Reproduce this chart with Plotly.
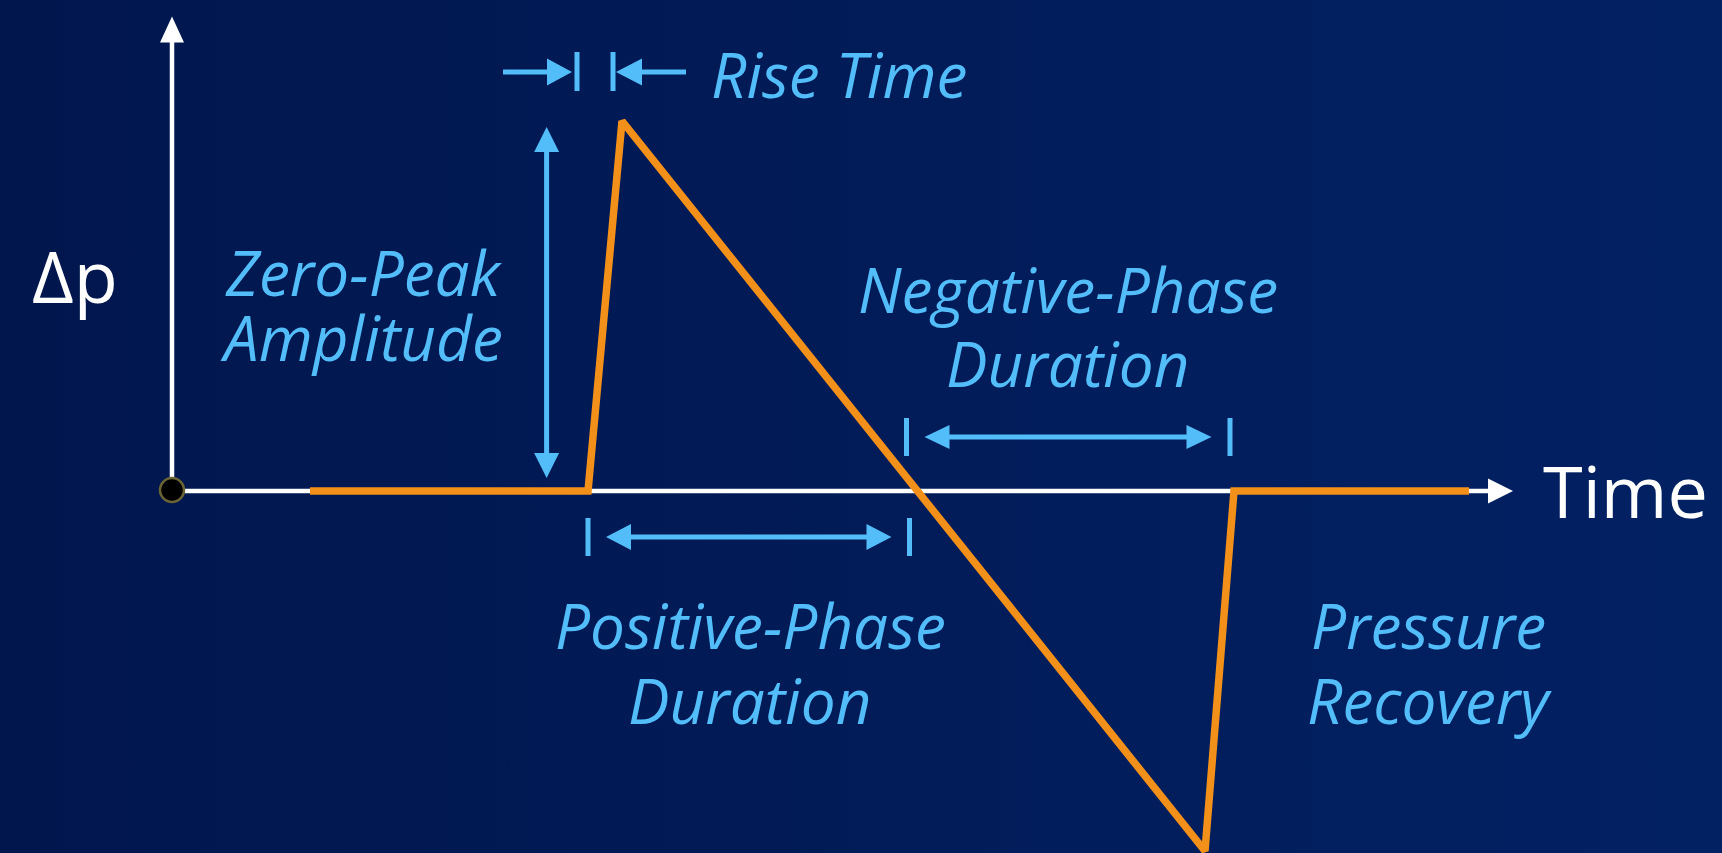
import numpy as np
import plotly.graph_objects as go

# ---- data (schematic blast wave: time in ms, overpressure in kPa) ----
t_ms = [13.8, 41.6, 45.0, 103.3, 106.2, 129.7]
dp_kpa = [0.0, 0.0, 37.0, -36.0, 0.0, 0.0]
axis_time_end = 134.1
axis_dp_end = 47.45

ORANGE = "#F39019"
BLUE = "#52BDF9"
WHITE = "#FFFFFF"
FONT = "Open Sans"

W, H = 1722, 853
XR = [-17.2, 155.0]
YR = [-36.2, 49.1]

# zero crossing of the descending branch
t_zero = float(np.interp(0.0, [dp_kpa[3], dp_kpa[2]], [t_ms[3], t_ms[2]]))
t_arr, t_peak, t_rec = t_ms[1], t_ms[2], t_ms[4]

fig = go.Figure()

# background gradient
fig.add_trace(go.Scatter(
    x=[XR[0], XR[1], XR[1], XR[0], XR[0]], y=[YR[0], YR[0], YR[1], YR[1], YR[0]],
    mode="lines", line=dict(width=0), fill="toself",
    fillgradient=dict(type="horizontal", colorscale=[[0, "#01164D"], [1, "#022163"]]),
    hoverinfo="skip", showlegend=False))

# axes (white lines)
fig.add_trace(go.Scatter(x=[0, 0], y=[0, axis_dp_end - 2.4], mode="lines",
                         line=dict(color=WHITE, width=4.5), hoverinfo="skip", showlegend=False))
fig.add_trace(go.Scatter(x=[0, axis_time_end - 2.4], y=[0, 0], mode="lines",
                         line=dict(color=WHITE, width=4.5), hoverinfo="skip", showlegend=False))

# waveform
fig.add_trace(go.Scatter(x=t_ms, y=dp_kpa, mode="lines",
                         line=dict(color=ORANGE, width=7.5), hoverinfo="skip", showlegend=False))

# origin dot
fig.add_trace(go.Scatter(x=[0], y=[0.1], mode="markers",
                         marker=dict(size=24, color="#000000", line=dict(color="#6B6535", width=2.5)),
                         hoverinfo="skip", showlegend=False))

shapes = []


def head(tx, ty, d, L=2.5, Wd=2.5, color=BLUE):
    h = Wd / 2
    if d == "r":
        p = f"M{tx},{ty} L{tx-L},{ty+h} L{tx-L},{ty-h} Z"
    elif d == "l":
        p = f"M{tx},{ty} L{tx+L},{ty+h} L{tx+L},{ty-h} Z"
    elif d == "u":
        p = f"M{tx},{ty} L{tx-h},{ty-L} L{tx+h},{ty-L} Z"
    else:
        p = f"M{tx},{ty} L{tx-h},{ty+L} L{tx+h},{ty+L} Z"
    shapes.append(dict(type="path", path=p, xref="x", yref="y", fillcolor=color,
                       line=dict(width=0), layer="above"))


def seg(x0, y0, x1, y1, w=5, color=BLUE):
    shapes.append(dict(type="line", x0=x0, y0=y0, x1=x1, y1=y1, xref="x", yref="y",
                       line=dict(color=color, width=w), layer="above"))


# axis arrowheads
head(0, axis_dp_end, "u", L=2.6, Wd=2.4, color=WHITE)
head(axis_time_end, 0, "r", L=2.5, Wd=2.5, color=WHITE)

# rise time
ry = 41.9
b1, b2 = t_arr - 1.1, t_peak - 0.9
seg(b1, 40.0, b1, 43.9)
seg(b2, 40.0, b2, 43.9)
seg(b1 - 7.4, ry, b1 - 3.0, ry)
head(b1 - 0.5, ry, "r", L=2.5, Wd=2.7)
seg(b2 + 2.5, ry, b2 + 7.3, ry)
head(b2 + 0.3, ry, "l", L=2.6, Wd=2.7)

# zero-peak amplitude
zx = 37.46
seg(zx, 1.3 + 2.3, zx, dp_kpa[2] - 0.6 - 2.3)
head(zx, dp_kpa[2] - 0.6, "u", L=2.5, Wd=2.5)
head(zx, 1.3, "d", L=2.5, Wd=2.5)

# positive-phase duration
py_ = -4.6
p1, p2 = t_arr, t_zero - 0.8
seg(p1, -2.7, p1, -6.5)
seg(p2, -2.7, p2, -6.5)
seg(p1 + 1.8 + 2.3, py_, p2 - 1.8 - 2.3, py_)
head(p1 + 1.8, py_, "l", L=2.5, Wd=2.6)
head(p2 - 1.8, py_, "r", L=2.5, Wd=2.6)

# negative-phase duration
ny = 5.4
n1, n2 = t_zero - 1.1, t_rec - 0.4
seg(n1, 3.5, n1, 7.3)
seg(n2, 3.5, n2, 7.3)
seg(n1 + 1.8 + 2.3, ny, n2 - 1.85 - 2.3, ny)
head(n1 + 1.8, ny, "l", L=2.5, Wd=2.4)
head(n2 - 1.85, ny, "r", L=2.5, Wd=2.4)

annotations = []


def label(text, x, y, xanchor="center", size=62, color=BLUE, italic=True):
    annotations.append(dict(text=text, x=x, y=y, xref="x", yref="y", xanchor=xanchor,
                            yanchor="middle", showarrow=False,
                            font=dict(family=FONT, size=size, color=color,
                                      style="italic" if italic else "normal")))


label("Rise Time", 53.7, 41.7, xanchor="left")
label("Zero-Peak", 33.3, 21.9, xanchor="right")
label("Amplitude", 33.3, 15.4, xanchor="right")
label("Negative-Phase", 89.6, 20.2)
label("Duration", 89.5, 12.8)
label("Positive-Phase", 57.8, -13.4)
label("Duration", 57.7, -20.85)
label("Pressure", 125.6, -13.4)
label("Recovery", 125.7, -20.85)
label("Δp", -9.75, 21.6, size=72, color=WHITE, italic=False)
label("Time", 136.9, 0.15, xanchor="left", size=72, color=WHITE, italic=False)

fig.update_layout(
    width=W, height=H, margin=dict(l=0, r=0, t=0, b=0),
    paper_bgcolor="#011A57", plot_bgcolor="#011A57",
    xaxis=dict(range=XR, visible=False, fixedrange=True),
    yaxis=dict(range=YR, visible=False, fixedrange=True),
    shapes=shapes, annotations=annotations, showlegend=False,
)

fig.write_html(
    "out.html",
    config={"displayModeBar": False},
    post_script=(
        "document.documentElement.style.margin='0';"
        "document.body.style.margin='0';"
        "document.body.style.overflow='hidden';"
        "document.body.style.background='#011A57';"
    ),
)
